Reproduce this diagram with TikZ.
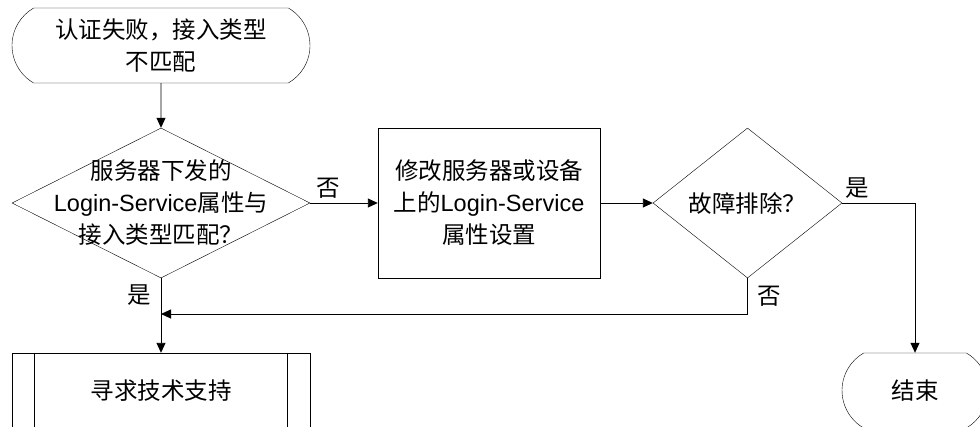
\documentclass[tikz,border=0pt]{standalone}
\usepackage{fontspec}
\setmainfont{Noto Sans CJK SC}
\newfontfamily\lat{Liberation Sans}
\usepackage{tikz}
\usetikzlibrary{positioning,shapes,arrows.meta,calc}

\begin{document}
\begin{tikzpicture}[
    x=1pt,y=-1pt,
    font=\fontsize{23.5}{32}\selectfont,
    term/.style={draw,rounded rectangle,rounded rectangle arc length=120,inner sep=0pt,align=center,minimum height=75pt},
    decision/.style={draw,diamond,inner sep=0pt,minimum height=150pt},
    proc/.style={draw,align=center,minimum width=222pt,minimum height=150pt},
    subproc/.style={draw,minimum width=298pt,minimum height=75pt},
    txt/.style={align=center,inner sep=0pt},
    conn/.style={draw,line width=0.9pt},
    arr/.style={conn,-{Triangle[length=10pt,width=9pt]}}
  ]
    \useasboundingbox (0,0) rectangle (980,426);
    \clip (0,0) rectangle (980,426);

    \node[term,minimum width=298pt] (start) at (161,45.5) {认证失败，接入类型\\不匹配};
    \node[decision,minimum width=298pt] (q1) at (161,203) {};
    \node[txt] (q1t) at (q1) {服务器下发的\\{\lat Login-Service}属性与\\接入类型匹配？};
    \node[proc] (fix) at (489,203) {修改服务器或设备\\上的{\lat Login-Service}\\属性设置};
    \node[decision,minimum width=189pt] (q2) at (747.5,203) {};
    \node[txt] (q2t) at (q2) {故障排除？};
    \node[subproc] (help) at (161,390.5) {寻求技术支持};
    \draw[conn] ($(help.north west)+(23,0)$) -- ($(help.south west)+(23,0)$);
    \draw[conn] ($(help.north east)+(-23,0)$) -- ($(help.south east)+(-23,0)$);
    \node[term,minimum width=146pt] (stop) at (915,390.5) {结束};
    \coordinate (back) at (161,314);

    \draw[arr] (start) -- (q1);
    \draw[arr] (q1.east) -- node[pos=0.27,above=1pt] (no1) {否} (fix);
    \draw[arr] (fix) -- (q2.west);
    \draw[arr] (q2.east) -| node[pos=0.1,above=1pt] (yes2) {是} (stop);
    \draw[arr] (q2.south) |- node[pos=0.25,right=6pt] (no2) {否} (back);
    \draw[arr] (q1.south) -- node[pos=0.23,left=6pt] (yes1) {是} (help);
  \end{tikzpicture}
\end{document}
